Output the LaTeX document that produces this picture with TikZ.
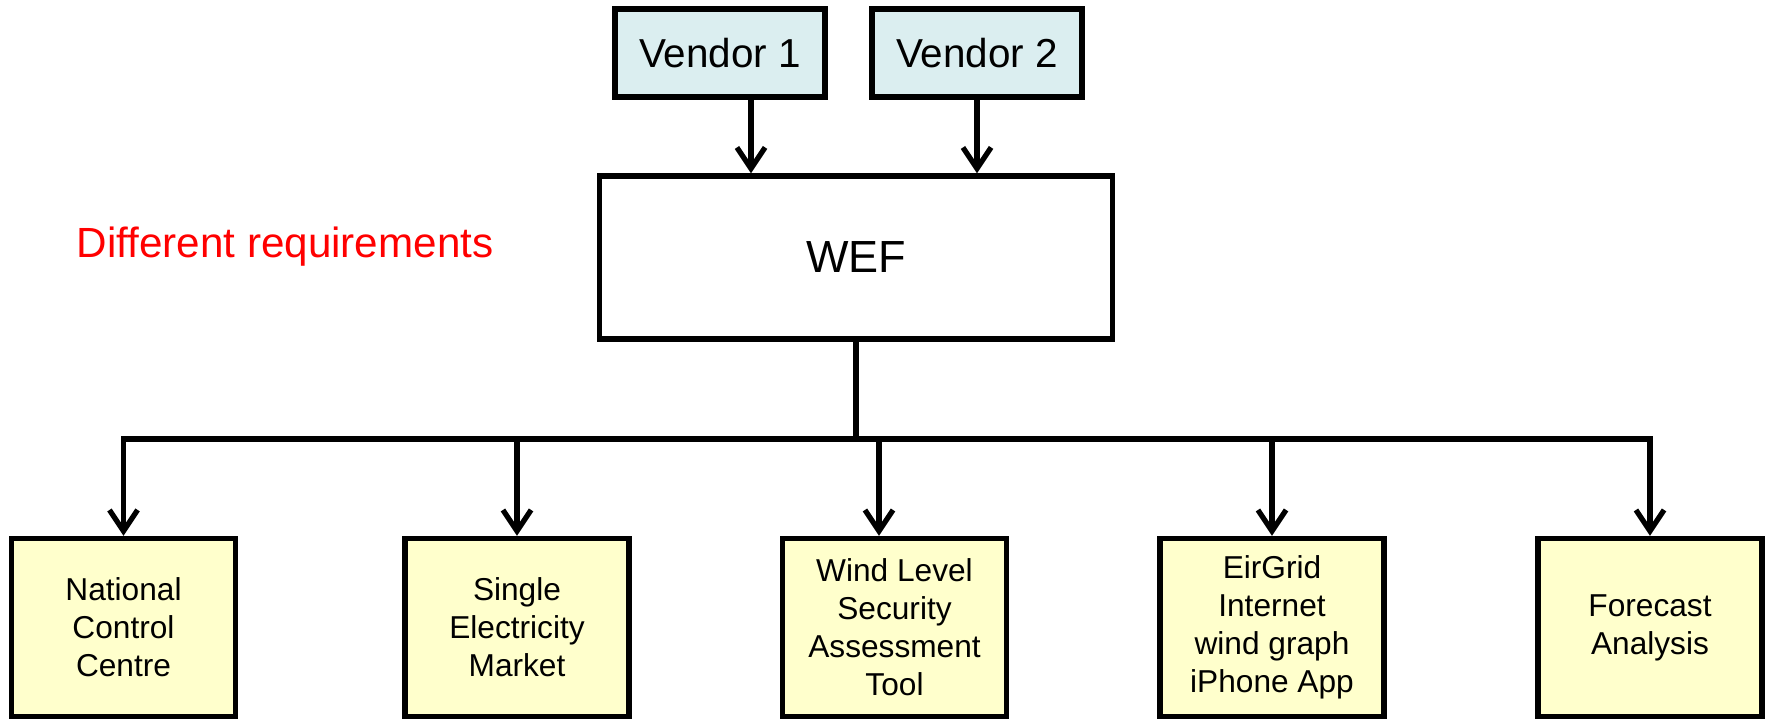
\documentclass[tikz,border=0pt]{standalone}
\usepackage{fontspec}
\setmainfont{Liberation Sans}
\usetikzlibrary{arrows.meta}
\definecolor{vendorfill}{RGB}{219,238,240}
\definecolor{userfill}{RGB}{255,255,204}
\definecolor{notered}{RGB}{255,0,0}
\begin{document}
\begin{tikzpicture}[x=0.01cm,y=-0.01cm,
  box/.style={draw=black, line width=1.5pt, inner sep=0pt, align=center},
  vendorbox/.style={box, fill=vendorfill, minimum width=2.10cm, minimum height=0.88cm,
    font=\fontsize{11.5}{14}\selectfont},
  wefbox/.style={box, fill=white, minimum width=5.12cm, minimum height=1.63cm,
    font=\fontsize{12.8}{15}\selectfont},
  userbox/.style={box, fill=userfill, minimum width=2.24cm, minimum height=1.78cm,
    font=\fontsize{9}{10.8}\selectfont},
  bus/.style={line width=1.5pt, line cap=rect},
  feed/.style={line width=1.5pt, -{Straight Barb[length=6pt,width=8pt,line width=1.5pt]}}
]
\useasboundingbox (0,0) rectangle (1766,721);

% data sources
\node[vendorbox] (v1) at (720,53) {Vendor 1};
\node[vendorbox] (v2) at (977,53) {Vendor 2};

% forecast system
\node[wefbox] (wef) at (856,257.5) {WEF};

% note
\node[anchor=base west, inner sep=0pt, text=notered, font=\fontsize{12}{14}\selectfont]
  (req) at (76,257) {Different requirements};

% consumers
\node[userbox] (ncc) at (123.5,627.5) {\raisebox{-1pt}{\parbox{2cm}{\centering National\\Control\\Centre}}};
\node[userbox] (sem) at (517,627.5) {\raisebox{-1pt}{\parbox{2cm}{\centering Single\\Electricity\\Market}}};
\node[userbox] (wls) at (894.5,627.5) {\raisebox{-1pt}{\parbox{2cm}{\centering Wind Level\\Security\\Assessment\\Tool}}};
\node[userbox] (eir) at (1272,627.5) {\raisebox{-1pt}{\parbox{2cm}{\centering EirGrid\\Internet\\wind graph\\iPhone App}}};
\node[userbox] (fca) at (1650,627.5) {\raisebox{-1pt}{\parbox{2cm}{\centering Forecast\\Analysis}}};

% vendor feeds
\coordinate (v1out) at ([xshift=0.31cm]v1.south);
\draw[feed] (v1out) -- (v1out |- wef.north);
\draw[feed] (v2.south) -- (v2.south |- wef.north);

% distribution bus
\coordinate (busy) at (857,439);
\draw[bus] (wef.south) -- (wef.south |- busy);
\draw[bus] (ncc.north |- busy) -- (fca.north |- busy);

\coordinate (wlsin) at ([xshift=-0.155cm]wls.north);
\draw[feed] (ncc.north |- busy) -- (ncc.north);
\draw[feed] (sem.north |- busy) -- (sem.north);
\draw[feed] (wlsin |- busy) -- (wlsin);
\draw[feed] (eir.north |- busy) -- (eir.north);
\draw[feed] (fca.north |- busy) -- (fca.north);
\end{tikzpicture}
\end{document}
